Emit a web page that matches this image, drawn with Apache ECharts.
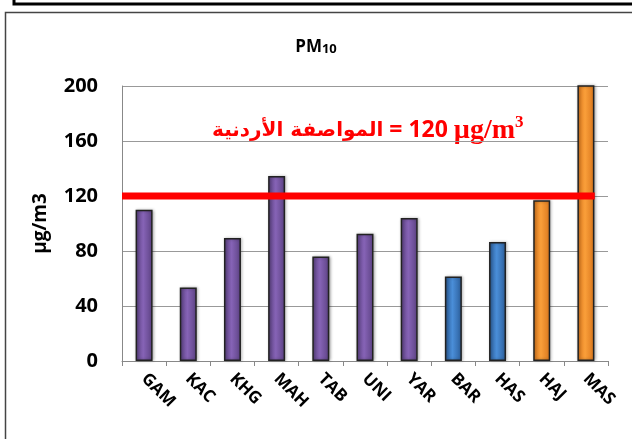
<!DOCTYPE html>
<html>
<head>
<meta charset="utf-8">
<script src="https://cdn.jsdelivr.net/npm/echarts@6/dist/echarts.min.js"></script>
<style>
	html, body { margin: 0; padding: 0; background: #fff; }
	#main { width: 632px; height: 439px; }
</style>
</head>
<body>
<div id="main"></div>
<script>
// stations and PM10 values (µg/m3)
var stations = ['GAM', 'KAC', 'KHG', 'MAH', 'TAB', 'UNI', 'YAR', 'BAR', 'HAS', 'HAJ', 'MAS'];
var pm10 = [110, 53.5, 89.5, 134.5, 76, 92.5, 104, 61.5, 86.5, 117, 215];
var stationGroup = ['a', 'a', 'a', 'a', 'a', 'a', 'a', 'b', 'b', 'c', 'c'];
var yTicks = [0, 40, 80, 120, 160, 200];
var limitValue = 120;
var limitSpan = [-0.5, 10.2];
var limitLabelAr = 'المواصفة الأردنية';
var limitLabelNum = ' = 120 ';
var limitLabelUnit = 'µg/m';

var chart = echarts.init(document.getElementById('main'));
var FONT = '"Open Sans", "DejaVu Sans", sans-serif';

//柱子颜色
function grad(light, dark) {
	return new echarts.graphic.LinearGradient(0, 0, 1, 0, [
		{ offset: 0, color: dark },
		{ offset: 0.45, color: light },
		{ offset: 1, color: dark }
	]);
}
var groupColor = {
	a: grad('#8663b6', '#5c4283'),
	b: grad('#4a8ed8', '#2b5d9a'),
	c: grad('#fa9f3a', '#d9761c')
};

var option = {
	backgroundColor: '#fff',
	animation: false,
	title: {
		text: '{p|PM}{s|10}',
		left: 'center',
		top: 33,
		textStyle: {
			rich: {
				p: { fontFamily: FONT, fontWeight: 'bold', fontSize: 17, color: '#000' },
				s: { fontFamily: FONT, fontWeight: 'bold', fontSize: 13, color: '#000', padding: [5, 0, 0, 0] }
			}
		}
	},
	graphic: [
		{ type: 'rect', shape: { x: 5.5, y: 12.5, width: 640, height: 440 }, style: { fill: 'none', stroke: '#444', lineWidth: 1.5 }, silent: true },
		{ type: 'polyline', shape: { points: [[14, -5], [14, 4], [640, 4]] }, style: { stroke: '#000', lineWidth: 3, fill: 'none' }, silent: true },
		{
			type: 'text', left: 212, top: 114,
			style: {
				text: '{ar|' + limitLabelAr + '}{num|' + limitLabelNum + '}{en|' + limitLabelUnit + '}{sup|3}',
				rich: {
					ar: { fill: '#ff0000', fontFamily: '"DejaVu Serif", "DejaVu Sans"', fontWeight: 'bold', fontSize: 20 },
					num: { fill: '#ff0000', fontFamily: FONT, fontWeight: 'bold', fontSize: 23 },
					en: { fill: '#ff0000', fontFamily: '"Liberation Serif"', fontWeight: 'bold', fontSize: 28 },
					sup: { fill: '#ff0000', fontFamily: '"Liberation Serif"', fontWeight: 'bold', fontSize: 17, padding: [0, 0, 16, 0] }
				}
			}
		}
	],
	grid: { left: 122, right: 24, top: 86, bottom: 78 },
	xAxis: [{
		type: 'category',
		data: stations,
		axisLine: { lineStyle: { color: '#888', width: 1 } },
		axisTick: { show: true, length: 5, lineStyle: { color: '#888' } },
		axisLabel: { rotate: -45, color: '#000', fontWeight: 'bold', fontSize: 17, fontFamily: FONT, margin: 15, interval: 0 }
	}, {
		type: 'value', min: -0.5, max: 10.5, show: false
	}],
	yAxis: {
		type: 'value',
		min: 0, max: 200, interval: 40,
		name: 'µg/m3',
		nameLocation: 'middle',
		nameGap: 72,
		nameTextStyle: { color: '#000', fontWeight: 'bold', fontSize: 19, fontFamily: FONT },
		axisLine: { show: true, onZero: false, lineStyle: { color: '#888' } },
		axisTick: { show: false },
		axisLabel: {
			color: '#000', fontWeight: 'bold', fontSize: 20, fontFamily: FONT, margin: 24,
			formatter: function (v) { return yTicks.indexOf(v) >= 0 ? v : ''; }
		},
		splitLine: { lineStyle: { color: '#999', width: 1 } }
	},
	series: [{
		type: 'bar',
		data: pm10.map(function (v, i) {
			return { value: v, itemStyle: { color: groupColor[stationGroup[i]] } };
		}),
		barWidth: 17,
		itemStyle: { borderColor: '#222', borderWidth: 1.5, shadowColor: 'rgba(0,0,0,0.3)', shadowBlur: 3, shadowOffsetX: 1 }
	}, {
		type: 'line',
		xAxisIndex: 1,
		data: limitSpan.map(function (x) { return [x, limitValue]; }),
		symbol: 'none',
		clip: false,
		lineStyle: { color: '#ff0000', width: 7 },
		z: 5
	}]
};

chart.setOption(option);
window.onresize = chart.resize;
</script>
</body>
</html>
